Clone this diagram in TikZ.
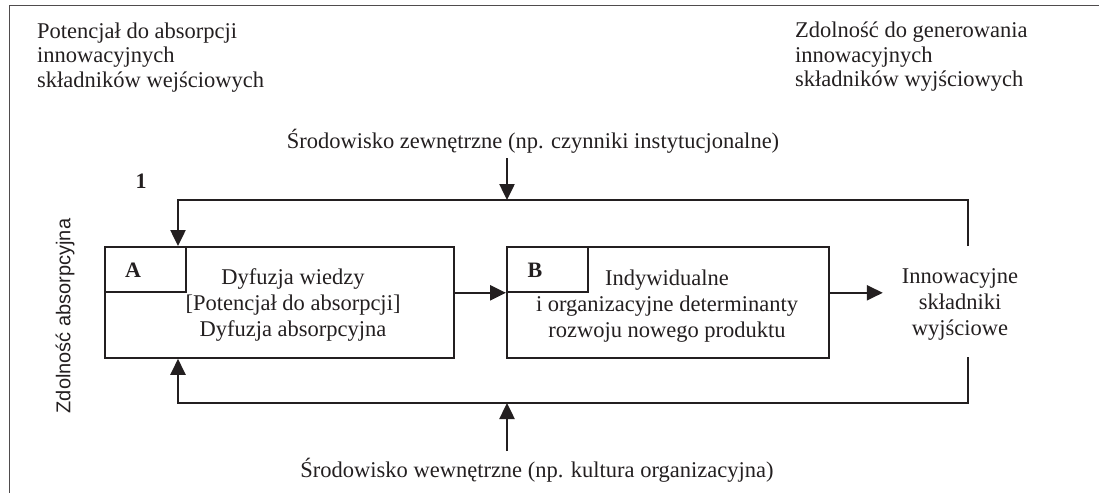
\documentclass[tikz,border=0pt]{standalone}
\usepackage{fontspec}
\setmainfont{Liberation Serif}
\newfontfamily\lsans{Liberation Sans}
\usetikzlibrary{arrows.meta}
\definecolor{ink}{HTML}{231F20}
\begin{document}
\begin{tikzpicture}[x=1pt,y=-1pt,
  txt/.style={font=\fontsize{22.5}{24.5}\selectfont, text=ink, inner sep=0pt, align=left},
  btxt/.style={font=\fontsize{22.5}{26}\selectfont, text=ink, inner sep=0pt, align=center},
  lbl/.style={font=\fontsize{22}{24}\selectfont\bfseries, text=ink, inner sep=0pt},
  box/.style={draw=ink, line width=1.8pt, inner sep=0pt, anchor=north west},
  conn/.style={draw=ink, line width=2.5pt},
  arr/.style={conn, -{Triangle[length=16pt,width=15pt]}},
  frame/.style={draw=ink!80, line width=1pt}
]
\useasboundingbox (0,0) rectangle (1099,493);
% frame (top and left only)
\coordinate (fr1) at (1099,5);
\coordinate (fr2) at (9.5,5);
\coordinate (fr3) at (9.5,493);
\draw[frame] (fr1) -- (fr2) -- (fr3);

% corner texts
\node[txt, anchor=west] (tl) at (37,57.5) {Potencjał do absorpcji\\innowacyjnych\\składników wejściowych};
\node[txt, anchor=west] (tr) at (795,57) {Zdolność do generowania\\innowacyjnych\\składników wyjściowych};

% environment texts
\node[txt] (ext) at (533,141) {Środowisko zewnętrzne (np. czynniki instytucjonalne)};
\node[txt] (int) at (537,470) {Środowisko wewnętrzne (np. kultura organizacyjna)};

% label 1
\node[lbl] (one) at (141,181) {1};

% vertical label
\node[rotate=90, font=\lsans\fontsize{20}{24}\selectfont, text=ink, inner sep=0pt] (zd) at (65,316) {Zdolność absorpcyjna};

% boxes
\node[box, minimum width=349pt, minimum height=111pt] (A) at (104,246) {};
\node[box, minimum width=81pt, minimum height=45pt] (Ain) at (104,246) {};
\node[lbl] (Alab) at (133,270) {A};
\node[btxt] (Atxt) at (293,305) {Dyfuzja wiedzy\\{[}Potencjał do absorpcji{]}\\Dyfuzja absorpcyjna};

\node[box, minimum width=322pt, minimum height=111pt] (B) at (506,246) {};
\node[box, minimum width=81pt, minimum height=45pt] (Bin) at (506,246) {};
\node[lbl] (Blab) at (535,270) {B};
\node[btxt] (Btxt) at (667,306) {Indywidualne\\i organizacyjne determinanty\\rozwoju nowego produktu};

\node[btxt] (out) at (960,304) {Innowacyjne\\składniki\\wyjściowe};

% coordinates for connectors
\coordinate (tA) at (178,200);
\coordinate (tR) at (968,200);
\coordinate (tM) at (507,200);
\coordinate (rT) at (968,246);
\coordinate (bA) at (178,403);
\coordinate (bR) at (968,403);
\coordinate (bM) at (507,403);
\coordinate (rB) at (968,357);
\coordinate (extS) at (507,158);
\coordinate (intN) at (507,451);

% main flow
\draw[arr] (A.east |- Ain.south) -- (B.west |- Ain.south);
\draw[arr] (B.east |- Bin.south) -- ++(53,0) coordinate (outW);

% feedback loops
\draw[arr] (rT) -- (tR) -- (tA) -- (A.north -| tA);
\draw[arr] (rB) -- (bR) -- (bA) -- (A.south -| bA);

% environment arrows
\draw[arr] (extS) -- (tM);
\draw[arr] (intN) -- (bM);
\end{tikzpicture}
\end{document}
